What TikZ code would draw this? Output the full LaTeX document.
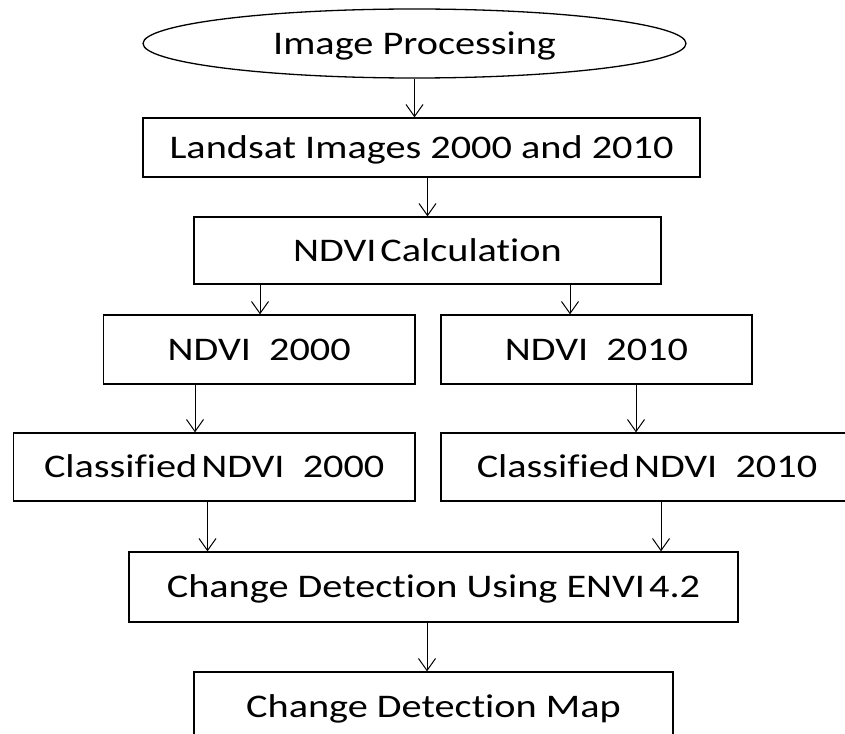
\documentclass[tikz,border=0pt]{standalone}
\usepackage{fontspec}
\setmainfont{Carlito}[FakeStretch=1.22,Ligatures=NoCommon]
\usetikzlibrary{arrows.meta,shapes.geometric}
\newcommand{\tgap}{\hspace{0.12em}}
\begin{document}
\begin{tikzpicture}[x=1pt,y=-1pt,
  lbl/.style={inner sep=0pt, text height=21.3pt, text depth=0pt, font=\fontsize{33}{40}\selectfont},
  box/.style={lbl, draw, line width=1.3pt},
  oval/.style={lbl, draw, ellipse, line width=1.3pt},
  arr/.style={-{Straight Barb[length=12pt,width=17pt]}, line width=1pt}]
\useasboundingbox (0,0) rectangle (845,733);
\clip (0,0) rectangle (845,733);
\node[oval, minimum width=543pt, minimum height=69pt] (ell) at (414.5,43.5) {Image Processing};
\node[box, minimum width=557pt, minimum height=59pt] (land) at (421.5,147.5) {Landsat Images 2000 and 2010};
\node[box, minimum width=467pt, minimum height=67pt] (calc) at (427.5,250.5) {NDVI\tgap Calculation};
\node[box, minimum width=311.5pt, minimum height=69pt] (n2000) at (259.25,349.5) {NDVI\ \ 2000};
\node[box, minimum width=311pt, minimum height=69pt] (n2010) at (596.5,349.5) {NDVI\ \ 2010};
\node[box, minimum width=401.5pt, minimum height=68pt] (c2000) at (214.25,467) {Classified\tgap NDVI\ \ 2000};
\node[box, minimum width=412pt, minimum height=68pt] (c2010) at (647,467) {Classified\tgap NDVI\ \ 2010};
\node[box, minimum width=609pt, minimum height=70pt] (chg) at (433.5,587) {Change Detection Using ENVI\tgap 4.2};
\node[box, minimum width=479pt, minimum height=70pt] (map) at (433.5,707) {Change Detection Map};
\draw[arr] (ell.south) -- (ell.south |- land.north);
\draw[arr] (calc.north |- land.south) -- (calc.north);
\draw[arr] (calc.south -| 260,0) -- (n2000.north -| 260,0);
\draw[arr] (calc.south -| 570,0) -- (n2010.north -| 570,0);
\draw[arr] (n2000.south -| 195,0) -- (c2000.north -| 195,0);
\draw[arr] (n2010.south -| 636,0) -- (c2010.north -| 636,0);
\draw[arr] (c2000.south -| 207.5,0) -- (chg.north -| 207.5,0);
\draw[arr] (c2010.south -| 661,0) -- (chg.north -| 661,0);
\draw[arr] (chg.south -| 427,0) -- (map.north -| 427,0);
\end{tikzpicture}
\end{document}
